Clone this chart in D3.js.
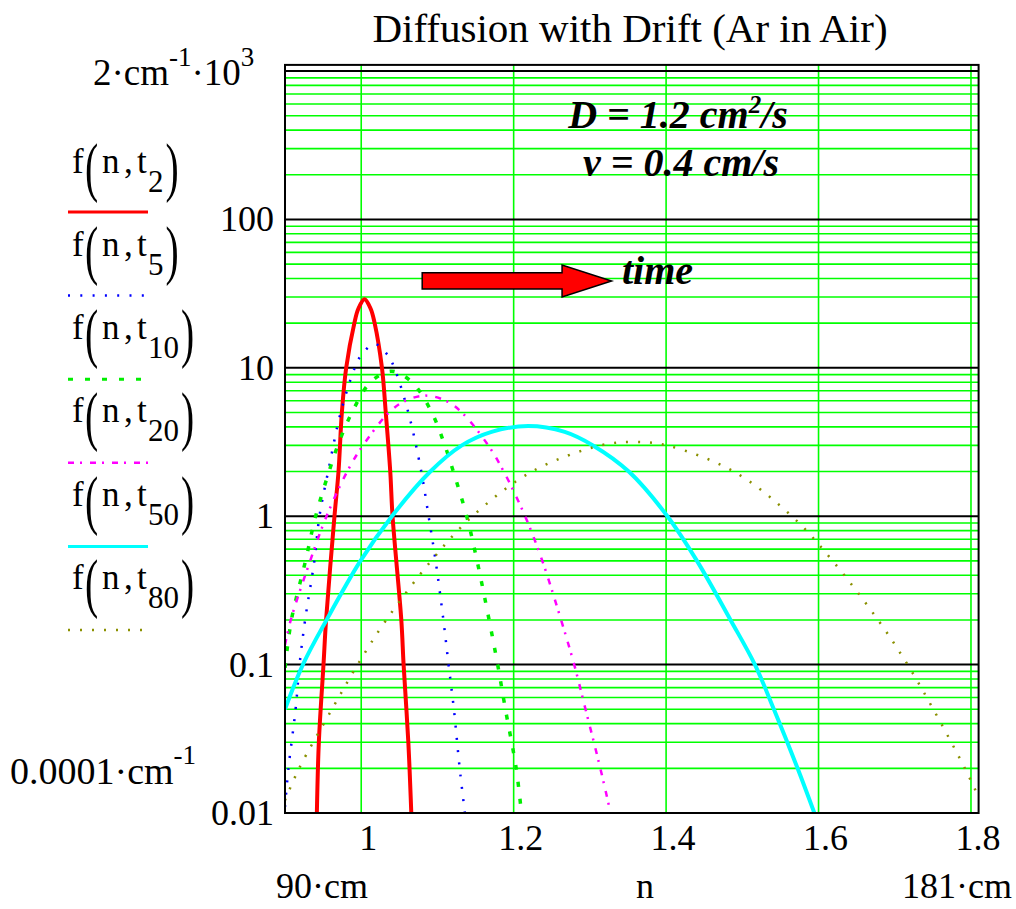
<!DOCTYPE html>
<html><head><meta charset="utf-8">
<script src="https://cdn.jsdelivr.net/npm/d3@7"></script>
<style>
body{margin:0;background:#fff}
svg{display:block}
text{font-family:"Liberation Serif","Times New Roman",serif;fill:#000}
</style>
</head><body><svg id="c" width="1016" height="909"></svg>
<script>
// ---------- data ----------
const xDomain = [0.9, 1.81];          // n in metres (90 cm .. 181 cm)
const yDomain = [0.01, 1100];         // f in 1/m
const xTicks = [1, 1.2, 1.4, 1.6, 1.8];
const xTickLabels = ["1", "1.2", "1.4", "1.6", "1.8"];
const yDecades = [0.1, 1, 10, 100, 1000];
const yTicks = [0.01, 0.1, 1, 10, 100];
const yTickLabels = ["0.01", "0.1", "1", "10", "100"];
const seriesNames = ["2", "5", "10", "20", "50", "80"];

const n_t2 = [0.9418,0.9444,0.9505,0.9539,0.9649,0.9702,0.9746,0.9803,0.991,0.9962,1.0043,1.0124,1.0176,1.0272,1.0322,1.0381,1.0411,1.0526,1.0556,1.0618,1.0657];
const f_t2 = [0.01,0.03,0.1,0.2,1,2,5,10,20,25,29,25,20,10,5,2,1,0.2,0.1,0.03,0.01];

const n_t5 = [0.9,0.9045,0.9139,0.9191,0.9264,0.9385,0.9452,0.9566,0.9731,0.9915,0.9993,1.0175,1.0357,1.0434,1.0618,1.0788,1.0884,1.0976,1.1078,1.1146,1.1216,1.1292,1.136];
const f_t5 = [0.011,0.02,0.05,0.1,0.2,0.5,1,2,5,10,12,14.5,12,10,5,2,1,0.5,0.2,0.1,0.05,0.02,0.01];

const n_t10 = [0.9,0.9084,0.9269,0.9402,0.9578,0.9693,0.9878,1.0123,1.0395,1.0667,1.0926,1.1097,1.1209,1.1384,1.152,1.1678,1.179,1.1892,1.2033,1.2102];
const f_t10 = [0.095,0.2,0.5,1,2,3,5,8,9.5,8,5,3,2,1,0.5,0.2,0.1,0.05,0.02,0.01];

const n_t20 = [0.9,0.9076,0.933,0.9545,0.9816,1.0023,1.0364,1.058,1.0845,1.111,1.1321,1.1667,1.187,1.215,1.2376,1.2622,1.2794,1.2943,1.3137,1.3272];
const f_t20 = [0.136,0.2,0.5,1,2,3,5,6,6.5,6,5,3,2,1,0.5,0.2,0.1,0.05,0.02,0.01];

const n_t50 = [0.9,0.9235,0.9545,0.999,1.0403,1.0907,1.132,1.171,1.219,1.267,1.304,1.351,1.4017,1.4405,1.4845,1.5165,1.5414,1.5725,1.5945];
const f_t50 = [0.05,0.1,0.2,0.5,1,2,3,3.7,4.05,3.7,3,2,1,0.5,0.2,0.1,0.05,0.02,0.01];

const n_t80 = [0.9,0.9185,0.9616,0.9953,1.0329,1.0917,1.1459,1.224,1.314,1.357,1.401,1.4888,1.565,1.6185,1.678,1.7168,1.7506,1.792,1.81];
const f_t80 = [0.0122,0.02,0.05,0.1,0.2,0.5,1,2,3,3.17,3,2,1,0.5,0.2,0.1,0.05,0.02,0.0128];

// ---------- styles ----------
const styles = [
  {color:"#ff0000", width:4, dash:null},
  {color:"#0000ff", width:2.5, dash:"2,10.3"},
  {color:"#00ee00", width:3.5, dash:"5,12"},
  {color:"#ff00ff", width:2.5, dash:"6,6,2,8"},
  {color:"#00ffff", width:4, dash:null},
  {color:"#8a9000", width:2.5, dash:"2,10"}
];
const seriesData = [[n_t2,f_t2],[n_t5,f_t5],[n_t10,f_t10],[n_t20,f_t20],[n_t50,f_t50],[n_t80,f_t80]]
  .map(([ns,fs]) => ns.map((n,i)=>({n, v:fs[i]})));

const svg = d3.select("#c");
const L = 285, R = 978.6, T = 64.9, B = 813;
const x = d3.scaleLinear().domain(xDomain).range([L, R]);
const y = d3.scaleLog().domain(yDomain).range([B, T]);

// ---------- grid ----------
const minor = [];
[0.01,0.1,1,10,100].forEach(d => { for (let k=2;k<=9;k++) if (d*k < yDomain[1]) minor.push(d*k); });
const grid = svg.append("g");
grid.selectAll("line.hm").data(minor).join("line")
  .attr("x1",L).attr("x2",R).attr("y1",d=>y(d)).attr("y2",d=>y(d))
  .attr("stroke","#00ff00").attr("stroke-width",1.6);
grid.selectAll("line.v").data(xTicks).join("line")
  .attr("x1",d=>x(d)).attr("x2",d=>x(d)).attr("y1",T).attr("y2",B)
  .attr("stroke","#00ff00").attr("stroke-width",1.6);
grid.selectAll("line.hd").data(yDecades).join("line")
  .attr("x1",L).attr("x2",R).attr("y1",d=>y(d)).attr("y2",d=>y(d))
  .attr("stroke","#000").attr("stroke-width",2);

// ---------- curves ----------
svg.append("clipPath").attr("id","clip").append("rect")
  .attr("x",L).attr("y",T).attr("width",R-L).attr("height",B-T);
const line = d3.line().x(d=>x(d.n)).y(d=>y(d.v)).curve(d3.curveCatmullRom.alpha(0.5));
const cg = svg.append("g").attr("clip-path","url(#clip)");
seriesData.forEach((s,i)=>{
  const st = styles[i];
  cg.append("path").attr("d",line(s)).attr("fill","none")
    .attr("stroke",st.color).attr("stroke-width",st.width)
    .attr("stroke-dasharray",st.dash).attr("stroke-linejoin","round");
});

// ---------- frame ----------
svg.append("rect").attr("x",L).attr("y",T).attr("width",R-L).attr("height",B-T)
  .attr("fill","none").attr("stroke","#000").attr("stroke-width",2);

// ---------- axes labels ----------
svg.append("g").selectAll("text").data(yTicks).join("text")
  .attr("x",274).attr("y",d=>y(d)+12).attr("text-anchor","end")
  .style("font-size","36px").text((d,i)=>yTickLabels[i]);
svg.append("g").selectAll("text").data(xTicks).join("text")
  .attr("x",d=>x(d)+7).attr("y",850).attr("text-anchor","middle")
  .style("font-size","36px").text((d,i)=>xTickLabels[i]);

const topLbl = svg.append("text").attr("x",93).attr("y",85).style("font-size","37px");
topLbl.append("tspan").text("2·cm");
topLbl.append("tspan").attr("dy",-19).style("font-size","27px").text("-1");
topLbl.append("tspan").attr("dy",19).text("·10");
topLbl.append("tspan").attr("dy",-19).style("font-size","27px").text("3");

const botLbl = svg.append("text").attr("x",10).attr("y",784).style("font-size","38px");
botLbl.append("tspan").text("0.0001·cm");
botLbl.append("tspan").attr("dy",-20).style("font-size","27px").text("-1");

svg.append("text").attr("x",322).attr("y",898).attr("text-anchor","middle").style("font-size","36px").text("90·cm");
svg.append("text").attr("x",645).attr("y",898).attr("text-anchor","middle").style("font-size","36px").text("n");
svg.append("text").attr("x",1012).attr("y",898).attr("text-anchor","end").style("font-size","36px").text("181·cm");

// title
svg.append("text").attr("x",630).attr("y",42).attr("text-anchor","middle")
  .style("font-size","41px").text("Diffusion with Drift (Ar in Air)");

// ---------- legend ----------
seriesNames.forEach((nm,i)=>{
  const by = 172.5 + i*83.3;
  const g = svg.append("g");
  g.append("text").attr("x",72).attr("y",by).style("font-size","35px").text("f");
  g.append("text").attr("transform",`translate(85,${by+16}) scale(0.6,1)`).style("font-size","66px").text("(");
  g.append("text").attr("x",102).attr("y",by).style("font-size","35px").text("n");
  g.append("text").attr("x",124).attr("y",by).style("font-size","35px").text(",");
  g.append("text").attr("x",137).attr("y",by).style("font-size","35px").text("t");
  const sub = g.append("text").attr("x",148).attr("y",by+19).style("font-size","31px").text(nm);
  const w = sub.node().getComputedTextLength();
  g.append("text").attr("transform",`translate(${150+w},${by+16}) scale(0.6,1)`).style("font-size","66px").text(")");
  const st = styles[i];
  const ly = 212 + i*83.6;
  g.append("line").attr("x1",68).attr("x2",148).attr("y1",ly).attr("y2",ly)
    .attr("stroke",st.color).attr("stroke-width",st.width>3?3:2.5)
    .attr("stroke-dasharray",st.dash);
});

// ---------- annotations ----------
const ann1 = svg.append("text").attr("x",678).attr("y",128).attr("text-anchor","middle")
  .style("font-size","40px").style("font-weight","bold").style("font-style","italic");
ann1.append("tspan").text("D = 1.2 cm");
ann1.append("tspan").attr("dy",-15).style("font-size","25px").text("2");
ann1.append("tspan").attr("dy",15).text("/s");
svg.append("text").attr("x",681).attr("y",176).attr("text-anchor","middle")
  .style("font-size","40px").style("font-weight","bold").style("font-style","italic")
  .text("v = 0.4 cm/s");

// arrow (in data coordinates)
const arrowPts = [[1.080,43.8],[1.2635,43.8],[1.2635,49.3],[1.3285,38.5],[1.2635,30],[1.2635,34],[1.080,34]];
svg.append("polygon").attr("points",arrowPts.map(p=>[x(p[0]),y(p[1])].join(",")).join(" "))
  .attr("fill","#ff0000").attr("stroke","#000").attr("stroke-width",1.5);
svg.append("text").attr("x",622).attr("y",284)
  .style("font-size","40px").style("font-weight","bold").style("font-style","italic").text("time");
</script>
</body></html>
